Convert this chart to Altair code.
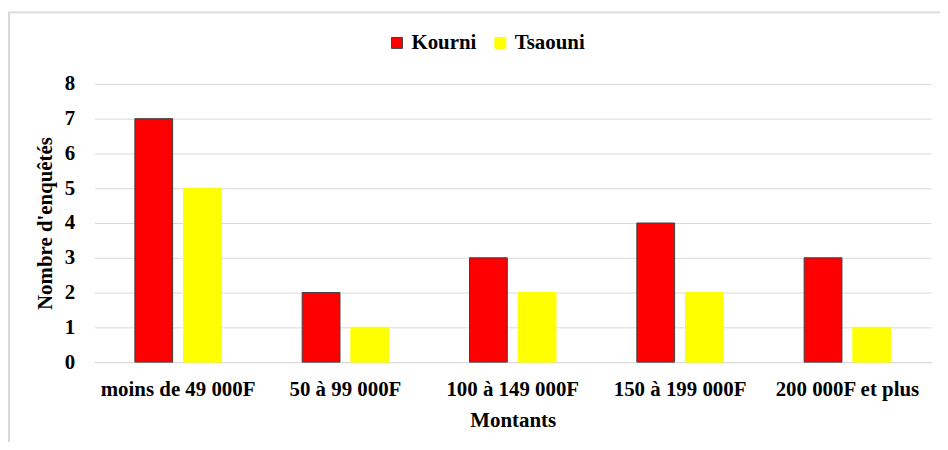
import altair as alt
import pandas as pd

categories = ["moins de 49 000F", "50 à 99 000F", "100 à 149 000F", "150 à 199 000F", "200 000F et plus"]
series = ["Kourni", "Tsaouni"]
kourni = [7, 2, 3, 4, 3]
tsaouni = [5, 1, 2, 2, 1]
y_ticks = [0, 1, 2, 3, 4, 5, 6, 7, 8]

rows = []
for c, k, t in zip(categories, kourni, tsaouni):
    rows.append({"Montant": c, "Zone": "Kourni", "N": k})
    rows.append({"Montant": c, "Zone": "Tsaouni", "N": t})
df = pd.DataFrame(rows)

FONT = "Liberation Serif"
FS = 21

bars = alt.Chart(df).mark_bar(strokeWidth=1).encode(
    x=alt.X("Montant:N", sort=categories,
            scale=alt.Scale(paddingInner=0, paddingOuter=0),
            axis=alt.Axis(title="Montants", labelAngle=0, labelPadding=17, ticks=False,
                          domainColor="#d9d9d9", grid=False, titlePadding=10)),
    xOffset=alt.XOffset("Zone:N", sort=series,
                        scale=alt.Scale(paddingInner=0.224, paddingOuter=0.83)),
    y=alt.Y("N:Q", scale=alt.Scale(domain=[0, 8]),
            axis=alt.Axis(title="Nombre d'enquêtés", values=y_ticks, ticks=False, domain=False,
                          gridColor="#d9d9d9", labelPadding=20, titlePadding=9)),
    fill=alt.Fill("Zone:N", sort=series,
                  scale=alt.Scale(domain=series, range=["#ff0000", "#ffff00"]),
                  legend=alt.Legend(title=None, orient="none", legendX=294, legendY=-52,
                                    direction="horizontal", columns=2, symbolType="square",
                                    symbolSize=121, labelFontSize=FS, labelFont=FONT,
                                    labelFontWeight="bold", labelColor="#000000",
                                    columnPadding=13, labelOffset=4, symbolStrokeWidth=1)),
    stroke=alt.Stroke("Zone:N", sort=series,
                      scale=alt.Scale(domain=series, range=["#404040", "#ffff00"]),
                      legend=None),
)

frame = alt.Chart(pd.DataFrame({"a": [0]})).mark_rect(
    fill=None, stroke="#d9d9d9", strokeWidth=2
).encode(
    x=alt.value(-86), x2=alt.value(1200), y=alt.value(-72), y2=alt.value(1200)
)

chart = alt.layer(frame, bars).properties(
    width=842, height=280,
    autosize=alt.AutoSizeParams(type="none"),
    padding={"left": 87, "top": 75, "right": 9, "bottom": 79},
).configure_view(stroke=None).configure_axis(
    labelFont=FONT, titleFont=FONT, labelFontSize=FS, titleFontSize=FS,
    labelFontWeight="bold", titleFontWeight="bold", labelColor="#000000", titleColor="#000000",
)

chart.save("out.html", embed_options={"renderer": "svg", "actions": False})
